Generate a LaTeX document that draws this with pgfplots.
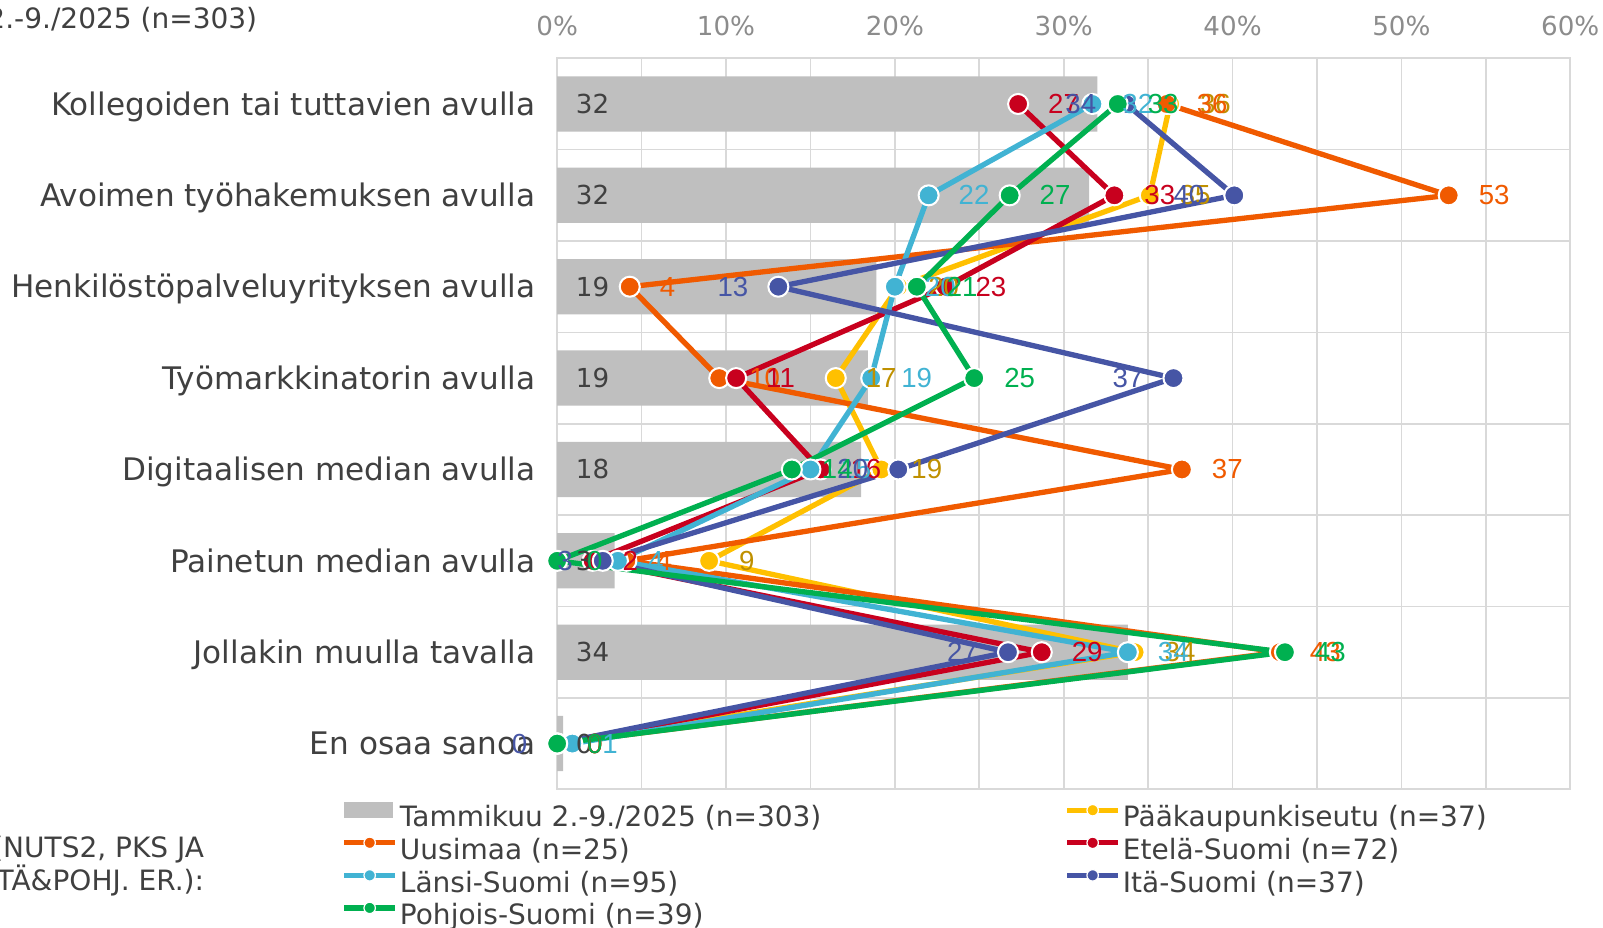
\documentclass[border=0pt]{standalone}
\usepackage{fontspec}
\setmainfont{DejaVu Sans}
\newfontfamily\arialf{Liberation Sans}
\usepackage{pgfplots}
\usepackage{pgfplotstable}
\pgfplotsset{compat=1.18}
\definecolor{gridc}{HTML}{D9D9D9}
\definecolor{barc}{HTML}{BFBFBF}
\definecolor{txt}{HTML}{404040}
\definecolor{tickc}{HTML}{8C8C8C}
\definecolor{uusc}{HTML}{F05A00}
\definecolor{pksc}{HTML}{FFC000}
\definecolor{pksl}{HTML}{BF9000}
\definecolor{etec}{HTML}{C8001E}
\definecolor{lanc}{HTML}{41B3D3}
\definecolor{itac}{HTML}{4655A5}
\definecolor{pohc}{HTML}{00B050}

\pgfplotstableread{
cat bar barlab uus uuslab pks pkslab ete etelab lan lanlab ita italab poh pohlab
0 32.0 32 36.1 36 36.3 36 27.3 27 31.7 32 33.7 34 33.2 33
1 31.5 32 52.8 53 35.1 35 33.0 33 22.0 22 40.1 40 26.8 27
2 18.9 19 4.3 4 20.2 20 23.0 23 20.0 20 13.1 13 21.3 21
3 18.4 19 9.6 10 16.5 17 10.6 11 18.6 19 36.5 37 24.7 25
4 18.0 18 37.0 37 19.2 19 15.6 16 15.0 15 20.2 20 13.9 14
5 3.4 3 4.1 4 9.0 9 2.1 2 3.6 4 2.7 3 0.0 0
6 33.8 34 42.8 43 34.2 34 28.7 29 33.8 34 26.7 27 43.1 43
7 0.35 0 0.0 0 0.0 0 0.0 0 0.9 1 0.0 0 0.0 0
}\data

\newcommand\legA[1]{\makebox[326pt][l]{\hspace{1pt}#1}}
\newcommand\legB[1]{\hspace{1pt}#1}

\tikzset{
  labR/.style={font=\arialf\fontsize{13.5pt}{16pt}\selectfont, inner sep=0pt, anchor=west, xshift=14.5pt},
  labL/.style={font=\arialf\fontsize{13.5pt}{16pt}\selectfont, inner sep=0pt, anchor=east, xshift=-14.5pt},
}
\pgfplotsset{
  ser/.style={color=#1, line width=2.6pt, line join=round, mark=*, mark size=4.9pt,
    mark options={fill=#1, draw=white, line width=1pt},
    legend image code/.code={
      \draw[line width=2.6pt] (0pt,5pt) -- (25pt,5pt);
      \fill[draw=white, line width=0.6pt] (12.5pt,5pt) circle (2.8pt);
    }},
}

\begin{document}
\begin{tikzpicture}
\useasboundingbox (-272.5pt,-67.5pt) rectangle (511.5pt,386pt);
\clip (-272.5pt,-67.5pt) rectangle (511.5pt,386pt);
\begin{axis}[
  scale only axis, width=495.5pt, height=357.5pt,
  xmin=0, xmax=60, ymin=-0.5, ymax=7.5, y dir=reverse,
  clip=false,
  axis line style={draw=gridc, line width=0.8pt},
  xtick={0,10,...,60},
  xticklabels={0\%,10\%,20\%,30\%,40\%,50\%,60\%},
  minor xtick={5,15,...,55},
  xticklabel pos=upper,
  ytick={0,...,7},
  yticklabels={Kollegoiden tai tuttavien avulla, Avoimen työhakemuksen avulla, Henkilöstöpalveluyrityksen avulla, Työmarkkinatorin avulla, Digitaalisen median avulla, Painetun median avulla, Jollakin muulla tavalla, En osaa sanoa},
  minor ytick={0.5,1.5,...,6.5},
  xmajorgrids=true, xminorgrids=true, yminorgrids=true,
  major grid style={draw=gridc, line width=0.8pt},
  minor grid style={draw=gridc, line width=0.8pt},
  major tick length=0pt, minor tick length=0pt,
  tick style={draw=none},
  xticklabel style={font=\fontsize{12.8pt}{15pt}\selectfont, text=tickc, anchor=south, inner sep=0pt, yshift=11pt},
  yticklabel style={font=\fontsize{15.2pt}{18pt}\selectfont, text=txt, anchor=base east, inner sep=0pt, xshift=-10.5pt, yshift=-5.5pt},
  legend columns=2, legend cell align=left,
  legend style={at={(-0.2129,-0.0175)}, anchor=north west, draw=none, fill=none,
    inner sep=0pt, outer sep=0pt, column sep=0pt, row sep=0pt,
    font=\fontsize{13.7pt}{16pt}\selectfont, text=txt,
    nodes={inner sep=0pt, text height=11pt, text depth=4.65pt}},
]
\addplot[xbar, bar width=27pt, fill=barc, draw=none,
  legend image code/.code={\fill[barc] (0pt,1pt) rectangle (24pt,9pt);}]
  table[x=bar, y=cat] {\data};
\addlegendentry{\legA{Tammikuu 2.-9./2025 (n=303)}}
\addplot[ser=pksc] table[x=pks, y=cat] {\data};
\addlegendentry{\legB{Pääkaupunkiseutu (n=37)}}
\addplot[ser=uusc] table[x=uus, y=cat] {\data};
\addlegendentry{\legA{Uusimaa (n=25)}}
\addplot[ser=etec] table[x=ete, y=cat] {\data};
\addlegendentry{\legB{Etelä-Suomi (n=72)}}
\addplot[ser=lanc] table[x=lan, y=cat] {\data};
\addlegendentry{\legA{Länsi-Suomi (n=95)}}
\addplot[ser=itac] table[x=ita, y=cat] {\data};
\addlegendentry{\legB{Itä-Suomi (n=37)}}
\addplot[ser=pohc] table[x=poh, y=cat] {\data};
\addlegendentry{\legA{Pohjois-Suomi (n=39)}}

% data labels
\addplot[draw=none, mark=none, forget plot, nodes near coords, point meta=explicit symbolic,
  nodes near coords style={font=\fontsize{12.8pt}{15pt}\selectfont, text=txt, anchor=west, inner sep=0pt, xshift=9pt}]
  table[x expr=0, y=cat, meta=barlab] {\data};
\addplot[draw=none, mark=none, forget plot, nodes near coords, point meta=explicit symbolic,
  nodes near coords style={labR, text=pksl}] table[x=pks, y=cat, meta=pkslab] {\data};
\addplot[draw=none, mark=none, forget plot, nodes near coords, point meta=explicit symbolic,
  nodes near coords style={labR, text=uusc}] table[x=uus, y=cat, meta=uuslab] {\data};
\addplot[draw=none, mark=none, forget plot, nodes near coords, point meta=explicit symbolic,
  nodes near coords style={labR, text=etec}] table[x=ete, y=cat, meta=etelab] {\data};
\addplot[draw=none, mark=none, forget plot, nodes near coords, point meta=explicit symbolic,
  nodes near coords style={labR, text=lanc}] table[x=lan, y=cat, meta=lanlab] {\data};
\addplot[draw=none, mark=none, forget plot, nodes near coords, point meta=explicit symbolic,
  nodes near coords style={labL, text=itac}] table[x=ita, y=cat, meta=italab] {\data};
\addplot[draw=none, mark=none, forget plot, nodes near coords, point meta=explicit symbolic,
  nodes near coords style={labR, text=pohc}] table[x=poh, y=cat, meta=pohlab] {\data};
\end{axis}
\node[anchor=base east, inner sep=0pt, text=txt, font=\fontsize{13.7pt}{16pt}\selectfont] at (-146.5pt,372pt) {Tammikuu 2.-9./2025 (n=303)};
\node[anchor=base east, inner sep=0pt, text=txt, font=\fontsize{13.7pt}{16pt}\selectfont] at (-172.5pt,-33.5pt) {(NUTS2, PKS JA};
\node[anchor=base east, inner sep=0pt, text=txt, font=\fontsize{13.7pt}{16pt}\selectfont] at (-172.5pt,-49.5pt) {ITÄ\&POHJ. ER.):};
\end{tikzpicture}
\end{document}
